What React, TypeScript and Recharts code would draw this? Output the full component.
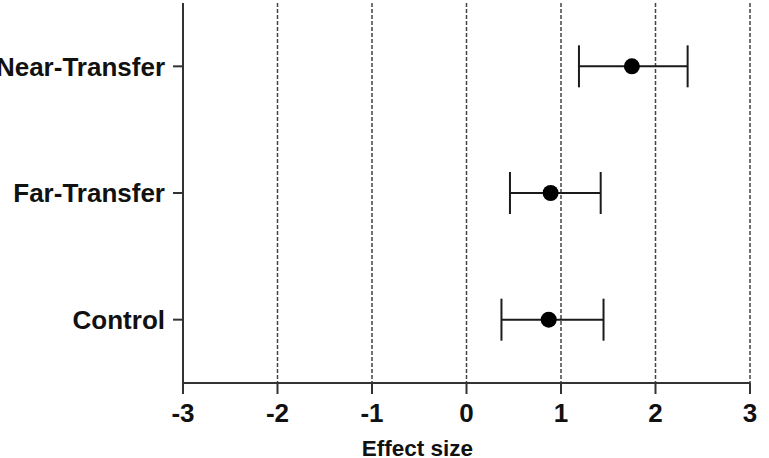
import React from 'react';
import { ScatterChart, Scatter, XAxis, YAxis, CartesianGrid, ErrorBar } from 'recharts';

const categories = ['Near-Transfer', 'Far-Transfer', 'Control'];
const means = [1.75, 0.89, 0.87];
const lowerCI = [1.19, 0.46, 0.37];
const upperCI = [2.34, 1.42, 1.45];
const xTicks = [-3, -2, -1, 0, 1, 2, 3];
const axisTitle = 'Effect size';

const data = categories.map((name, i) => ({
  name,
  mean: means[i],
  err: [means[i] - lowerCI[i], upperCI[i] - means[i]],
}));

const FONT = '"Liberation Sans", Arial, Helvetica, sans-serif';

const YTick = (props: any) => {
  const { x, y, payload } = props;
  return (
    <text x={x} y={y + 9.3} textAnchor="end" fontFamily={FONT} fontWeight="bold" fontSize={26} fill="#111">
      {payload.value}
    </text>
  );
};

const XTick = (props: any) => {
  const { x, y, payload } = props;
  return (
    <text x={x} y={y + 27.5} textAnchor="middle" fontFamily={FONT} fontWeight="bold" fontSize={26} fill="#111">
      {payload.value}
    </text>
  );
};

const AxisTitle = (props: any) => {
  const { viewBox } = props;
  const cx = viewBox.x + viewBox.width / 2 - 49;
  return (
    <text x={cx} y={455.5} textAnchor="middle" fontFamily={FONT} fontWeight="bold" fontSize={22.5} fill="#111">
      {axisTitle}
    </text>
  );
};

export default function App() {
  return (
    <div style={{ position: 'absolute', left: 0, top: 0, width: 769, height: 458, background: '#fff', overflow: 'hidden' }}>
      <ScatterChart width={769} height={458} margin={{ top: 3, right: 19, bottom: 0, left: 0 }}>
        <CartesianGrid horizontal={false} vertical={true} stroke="#444" strokeWidth={1.5} strokeDasharray="4 2" />
        <XAxis
          type="number"
          dataKey="mean"
          domain={[-3, 3]}
          ticks={xTicks}
          allowDataOverflow
          height={75}
          stroke="#333"
          strokeWidth={2}
          tickSize={11}
          tickMargin={0}
          tick={<XTick />}
          tickLine={{ stroke: '#333', strokeWidth: 2 }}
          label={<AxisTitle />}
        />
        <YAxis
          type="category"
          dataKey="name"
          width={183}
          reversed
          stroke="#333"
          strokeWidth={2}
          tickSize={10}
          tickMargin={8}
          tick={<YTick />}
          tickLine={{ stroke: '#333', strokeWidth: 2 }}
          allowDuplicatedCategory={false}
        />
        <Scatter data={data} fill="#000" isAnimationActive={false} shape={(p: any) => <circle cx={p.cx} cy={p.cy} r={8} fill="#000" />}>
          <ErrorBar dataKey="err" direction="x" width={21} stroke="#1a1a1a" strokeWidth={2} isAnimationActive={false} />
        </Scatter>
      </ScatterChart>
    </div>
  );
}
